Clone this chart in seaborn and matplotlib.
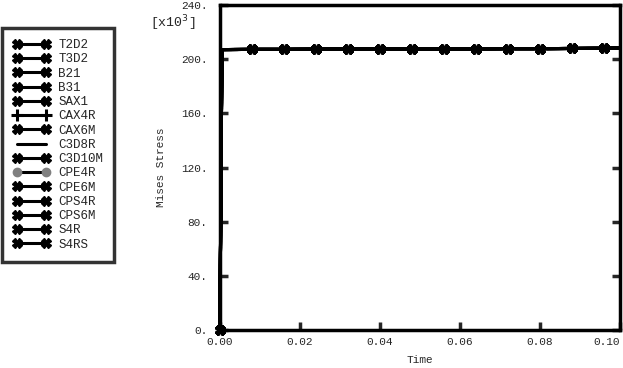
import numpy as np
import pandas as pd
import matplotlib
matplotlib.use('Agg')
import matplotlib.pyplot as plt
import seaborn as sns
from matplotlib.lines import Line2D
from matplotlib.ticker import FormatStrFormatter

# element types in legend order
elements = ['T2D2', 'T3D2', 'B21', 'B31', 'SAX1', 'CAX4R', 'CAX6M', 'C3D8R',
            'C3D10M', 'CPE4R', 'CPE6M', 'CPS4R', 'CPS6M', 'S4R', 'S4RS']
markers = ['X', 'X', 'X', 'X', 'X', '+', 'X', None,
           'X', 'o', 'X', 'X', 'X', 'X', 'X']

time = [0.0, 0.0005, 0.008, 0.016, 0.024, 0.032, 0.040, 0.048,
        0.056, 0.064, 0.072, 0.080, 0.088, 0.096, 0.100]
# Mises stress in units of 1e3
stress = [0.0, 207.2, 207.3, 207.3, 207.4, 207.5, 207.6, 207.6,
          207.7, 207.8, 207.9, 207.9, 208.0, 208.1, 208.2]


def style(m):
    kw = dict(color='black', lw=2.2)
    if m == 'o':
        kw.update(marker='o', markersize=6, markerfacecolor='gray', markeredgecolor='gray')
    elif m == '+':
        kw.update(marker='+', markersize=8, markeredgewidth=2.2)
    elif m == 'X':
        kw.update(marker='X', markersize=7, markerfacecolor='black', markeredgecolor='black')
    return kw


sns.set_style('white')
plt.rcParams['font.family'] = ['Liberation Mono', 'DejaVu Sans Mono']

fig = plt.figure(figsize=(6.23, 3.68), dpi=100)
ax = fig.add_axes([0.353, 0.103, 0.642, 0.883])

mark_idx = [0] + list(range(2, len(time) - 1))
df = pd.DataFrame({'Time': time, 'Mises Stress': stress})
for name, m in zip(elements, markers):
    sns.lineplot(data=df, x='Time', y='Mises Stress', ax=ax, estimator=None,
                 sort=False, markevery=mark_idx, clip_on=False, **style(m))

ax.set_xlim(0, 0.1)
ax.set_ylim(0, 240)
ax.set_xticks(np.arange(0, 0.101, 0.02))
ax.set_yticks(np.arange(0, 241, 40))
ax.xaxis.set_major_formatter(FormatStrFormatter('%.2f'))
ax.yaxis.set_major_formatter(FormatStrFormatter('%d.'))
ax.tick_params(direction='in', length=6, width=2.5, labelsize=8,
               left=True, right=True, bottom=True, top=False)
ax.tick_params(axis='y', pad=9)
ax.tick_params(axis='x', pad=5)
for s in ax.spines.values():
    s.set_linewidth(2.5)
    s.set_color('black')
ax.set_xlabel('Time', fontsize=8, labelpad=6)
ax.set_ylabel('Mises Stress', fontsize=8, labelpad=11)
fig.text(0.241, 0.925, r'[x10$^{3}$]', fontsize=9.5, ha='left', va='baseline')

# keep the last x label inside the figure
xl = ax.get_xticklabels()
xl[-1].set_horizontalalignment('right')
xl[-1].set_x(0.1)

handles = [Line2D([], [], **style(m)) for m in markers]
lg = fig.legend(handles, elements, loc='upper left', bbox_to_anchor=(0.003, 0.924),
                fontsize=9, frameon=True, fancybox=False, handlelength=2.9,
                numpoints=2, labelspacing=0.18, borderpad=0.9, handletextpad=0.7,
                borderaxespad=0)
lg.get_frame().set_edgecolor('black')
lg.get_frame().set_linewidth(2.5)

fig.savefig('out.png', dpi=100)
